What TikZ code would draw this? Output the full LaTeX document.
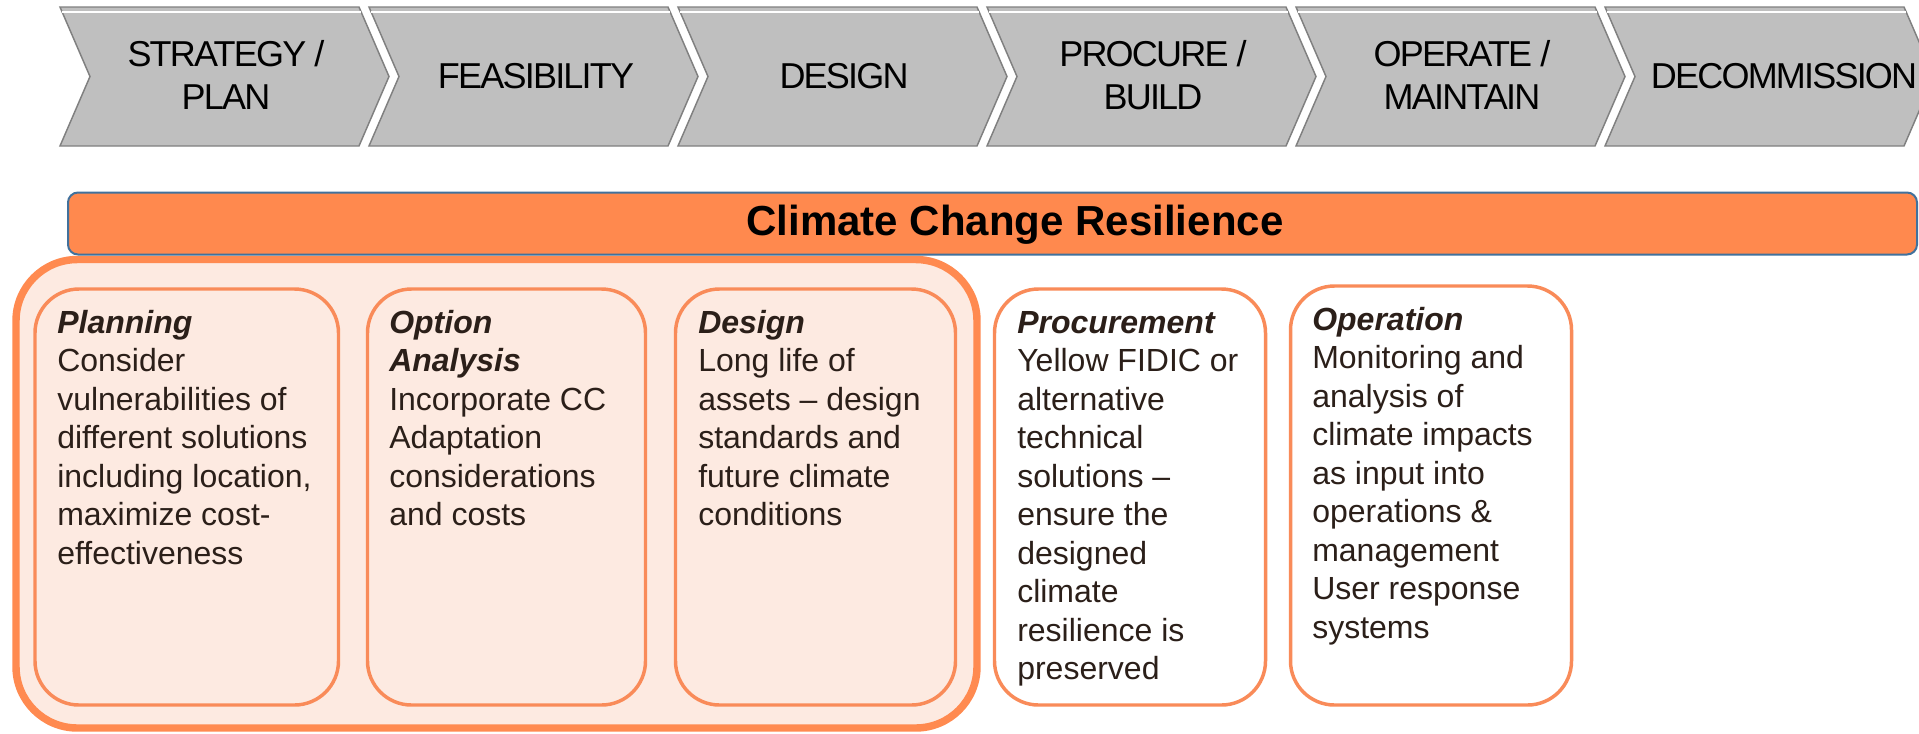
\documentclass[tikz,border=0pt]{standalone}
\usepackage{fontspec}
\setmainfont{Liberation Sans}
\newfontfamily\chevfont[LetterSpace=-5]{Liberation Sans}
\definecolor{chevgray}{HTML}{BFBFBF}
\definecolor{chevedge}{HTML}{808080}
\definecolor{barorange}{HTML}{FF894E}
\definecolor{barblue}{HTML}{41719C}
\definecolor{peach}{HTML}{FDEAE1}
\definecolor{rimorange}{HTML}{FF8A50}
\definecolor{boxorange}{HTML}{F98B59}
\definecolor{inkbrown}{HTML}{2B1F19}
\begin{document}
\begin{tikzpicture}[x=0.75pt,y=-0.75pt,
  chevron/.style={fill=chevgray,draw=chevedge,line width=1.1pt,line join=miter},
  stagetext/.style={anchor=base,inner sep=0pt,text=black,
    font=\chevfont\fontsize{27pt}{32.25pt}\selectfont},
  banner/.style={fill=barorange,draw=barblue,line width=1.5pt,rounded corners=7.5pt},
  phasegroup/.style={fill=peach,draw=rimorange,line width=5.6pt,rounded corners=46pt},
  phasebox/.style={draw=boxorange,line width=2.6pt,rounded corners=33pt},
  boxtext/.style={anchor=base west,inner sep=0pt,text=inkbrown,
    font=\fontsize{24pt}{28.875pt}\selectfont}]
\clip (0,0) rectangle (1919,733);
\fill[white] (0,0) rectangle (1919,733);

% project stages as chevrons
\foreach \k in {0,...,5}{
  \pgfmathsetmacro\L{60+309*\k}
  \draw[chevron] (\L,7) -- (\L+299,7) -- (\L+329,76.5) -- (\L+299,146)
    -- (\L,146) -- (\L+30,76.5) -- cycle;
  \draw[white,line width=1.1pt] (\L+2,12) -- (\L+301,12);
}
\node[stagetext] (strategy) at (226,66) {\parbox[t]{240pt}{\centering STRATEGY /\\PLAN}};
\node[stagetext] (feasibility) at (536,88) {FEASIBILITY};
\node[stagetext] (design) at (844,88) {DESIGN};
\node[stagetext] (procure) at (1153,66) {\parbox[t]{240pt}{\centering PROCURE /\\BUILD}};
\node[stagetext] (operate) at (1462,66) {\parbox[t]{240pt}{\centering OPERATE /\\MAINTAIN}};
\node[stagetext] (decommission) at (1784,88) {DECOMMISSION};

% grouping of the early phases
\draw[phasegroup] (16,259.5) rectangle (977,728);

% resilience banner
\draw[banner] (68,192.5) rectangle (1917,254.5);
\node[anchor=base,inner sep=0pt,text=black,
  font=\bfseries\fontsize{31.5pt}{36pt}\selectfont] (resilience) at (1015,235)
  {Climate Change Resilience};

% phase boxes
\draw[phasebox] (35,289) rectangle (338.5,705);
\draw[phasebox] (367.5,289) rectangle (645.5,705);
\draw[phasebox] (675.5,289) rectangle (955.5,705);
\draw[phasebox,fill=white] (994.5,289) rectangle (1265.5,705);
\draw[phasebox,fill=white] (1290.5,286) rectangle (1571.5,705);

\node[boxtext] (planning) at (57,333) {\parbox[t]{230pt}{\raggedright
  \textbf{\textit{Planning}}\\Consider\\vulnerabilities of\\different solutions\\
  including location,\\maximize cost-\\effectiveness}};
\node[boxtext] (options) at (389,333) {\parbox[t]{200pt}{\raggedright
  \textbf{\textit{Option}}\\\textbf{\textit{Analysis}}\\Incorporate CC\\Adaptation\\
  considerations\\and costs}};
\node[boxtext] (designtxt) at (698,333) {\parbox[t]{200pt}{\raggedright
  \textbf{\textit{Design}}\\Long life of\\assets -- design\\standards and\\
  future climate\\conditions}};
\node[boxtext] (procurement) at (1017,333) {\parbox[t]{200pt}{\raggedright
  \textbf{\textit{Procurement}}\\Yellow FIDIC or\\alternative\\technical\\
  solutions --\\ensure the\\designed\\climate\\resilience is\\preserved}};
\node[boxtext] (operation) at (1312,330) {\parbox[t]{200pt}{\raggedright
  \textbf{\textit{Operation}}\\Monitoring and\\analysis of\\climate impacts\\
  as input into\\operations \&\\management\\User response\\systems}};
\end{tikzpicture}
\end{document}
